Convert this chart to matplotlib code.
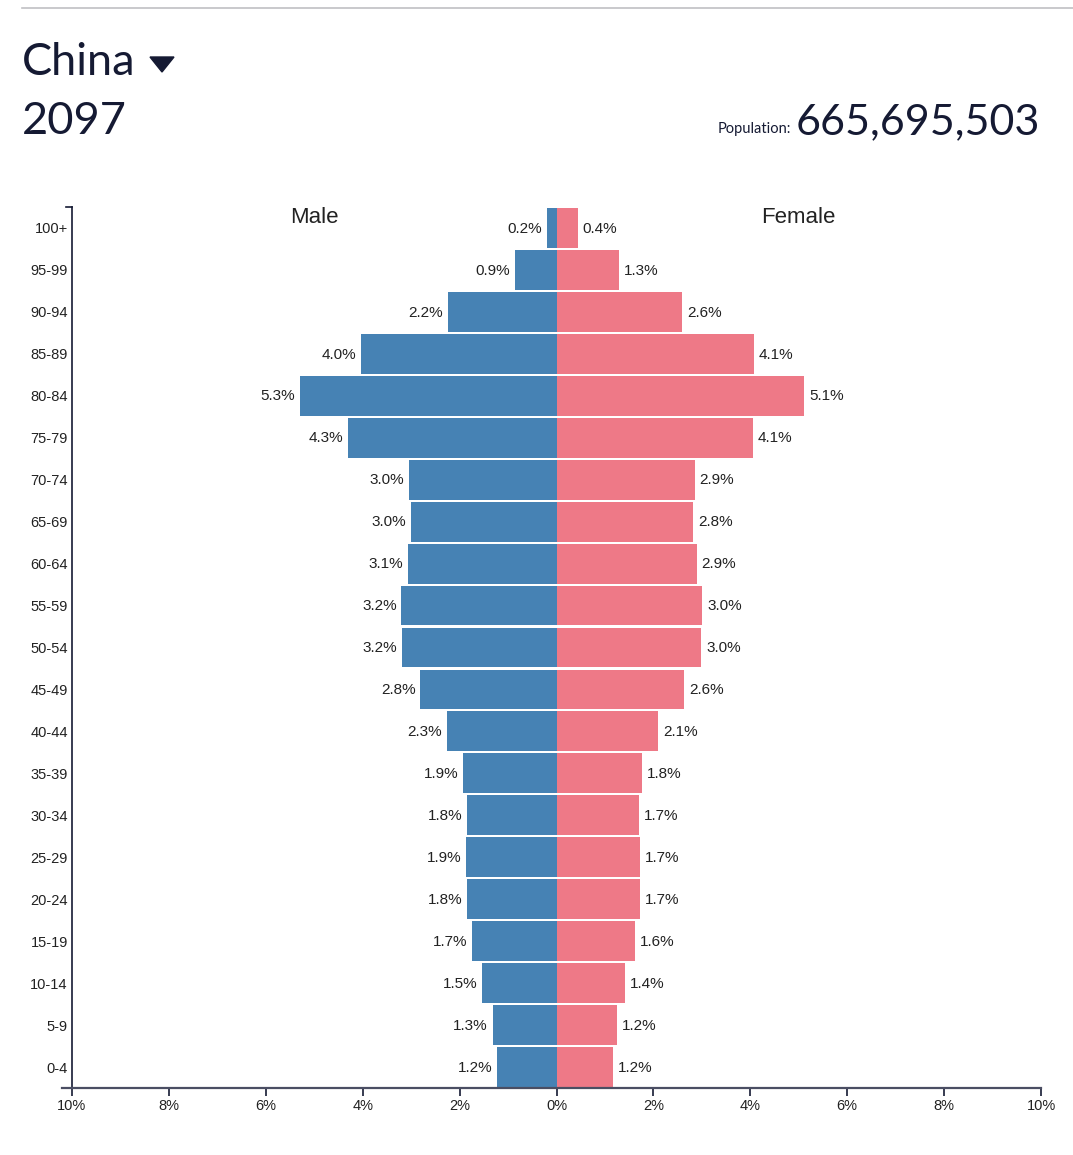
import matplotlib
matplotlib.use("Agg")
import matplotlib.pyplot as plt
from matplotlib.lines import Line2D
from matplotlib.patches import Polygon

ages = ["0-4", "5-9", "10-14", "15-19", "20-24", "25-29", "30-34", "35-39", "40-44",
        "45-49", "50-54", "55-59", "60-64", "65-69", "70-74", "75-79", "80-84",
        "85-89", "90-94", "95-99", "100+"]
male = [1.22, 1.32, 1.53, 1.74, 1.84, 1.86, 1.84, 1.92, 2.26, 2.81, 3.18, 3.20,
        3.06, 3.00, 3.04, 4.30, 5.29, 4.03, 2.24, 0.86, 0.19]
female = [1.16, 1.24, 1.42, 1.63, 1.73, 1.73, 1.71, 1.77, 2.10, 2.64, 2.99, 3.01,
          2.89, 2.82, 2.85, 4.06, 5.11, 4.08, 2.60, 1.28, 0.44]
xticks = [-10, -8, -6, -4, -2, 0, 2, 4, 6, 8, 10]
country = "China"
year = "2097"
population = "665,695,503"

W, H = 1073, 1155
fig = plt.figure(figsize=(W / 100, H / 100), dpi=100)
fig.patch.set_facecolor("white")

dark = "#151a33"
male_c = "#4682b4"
female_c = "#ee7987"
txt = "#222222"

def fx(px):
    return px / W

def fy(py):
    return 1 - py / H

# top rule
fig.add_artist(Line2D([fx(22), fx(1073)], [fy(8), fy(8)], color="#c0c0c4", lw=1.2))

title_font = ["Lato", "DejaVu Sans"]
fig.text(fx(22), fy(75), country, fontsize=32.5, color=dark, family=title_font,
         ha="left", va="baseline")
fig.add_artist(Polygon([[fx(150), fy(57)], [fx(174), fy(57)], [fx(162), fy(72)]],
                       closed=True, color=dark, transform=fig.transFigure))
fig.text(fx(22), fy(134), year, fontsize=32.5, color=dark, family=title_font,
         ha="left", va="baseline")
pop_t = fig.text(fx(1040), fy(134), population, fontsize=31, color=dark,
                 family=title_font, ha="right", va="baseline")
renderer = fig.canvas.get_renderer()
bb = pop_t.get_window_extent(renderer)
fig.text((bb.x0 - 5) / W, fy(133), "Population:", fontsize=10.5, color=dark,
         family=title_font, ha="right", va="baseline")

ax = fig.add_axes([fx(72), fy(1088), fx(1041) - fx(72), (1088 - 207) / H])
ypos = list(range(len(ages)))
ax.barh(ypos, [-m for m in male], height=0.95, color=male_c, left=0)
ax.barh(ypos, female, height=0.95, color=female_c, left=0)

lab_font = ["Liberation Sans", "DejaVu Sans"]
for i, (m, f) in enumerate(zip(male, female)):
    ax.annotate(f"{m:.1f}%", (-m, i), xytext=(-3.5, -0.5), textcoords="offset points",
                ha="right", va="center", fontsize=11, color=txt, family=lab_font)
    ax.annotate(f"{f:.1f}%", (f, i), xytext=(3.5, -0.5), textcoords="offset points",
                ha="left", va="center", fontsize=11, color=txt, family=lab_font)

ax.set_xlim(-10, 10)
ax.set_ylim(-0.5, len(ages) - 0.5)
ax.set_yticks(ypos)
ax.set_yticklabels(ages, family=lab_font, fontsize=10.5, color=txt)
ax.tick_params(axis="y", length=0, pad=3)
ax.set_xticks(xticks)
ax.set_xticklabels([f"{abs(t)}%" for t in xticks], family=lab_font, fontsize=10.5,
                   color=txt)
ax.tick_params(axis="x", length=6, width=1.2, color=dark, pad=2)
for s in ["top", "right"]:
    ax.spines[s].set_visible(False)
ax.spines["left"].set_color(dark)
ax.spines["left"].set_linewidth(1.2)
ax.spines["bottom"].set_color("#4a4e63")
ax.spines["bottom"].set_linewidth(1.6)
ax.spines["bottom"].set_bounds(-10.2, 10)
# outer tick at top of age axis
ax.plot([-10.12, -10], [len(ages) - 0.5, len(ages) - 0.5], color=dark, lw=1.2,
        clip_on=False)

ax.text(-5, len(ages) - 0.75, "Male", ha="center", va="center", fontsize=16,
        color=txt, family=lab_font)
ax.text(5, len(ages) - 0.75, "Female", ha="center", va="center", fontsize=16,
        color=txt, family=lab_font)

fig.savefig("out.png", dpi=100, facecolor="white")
